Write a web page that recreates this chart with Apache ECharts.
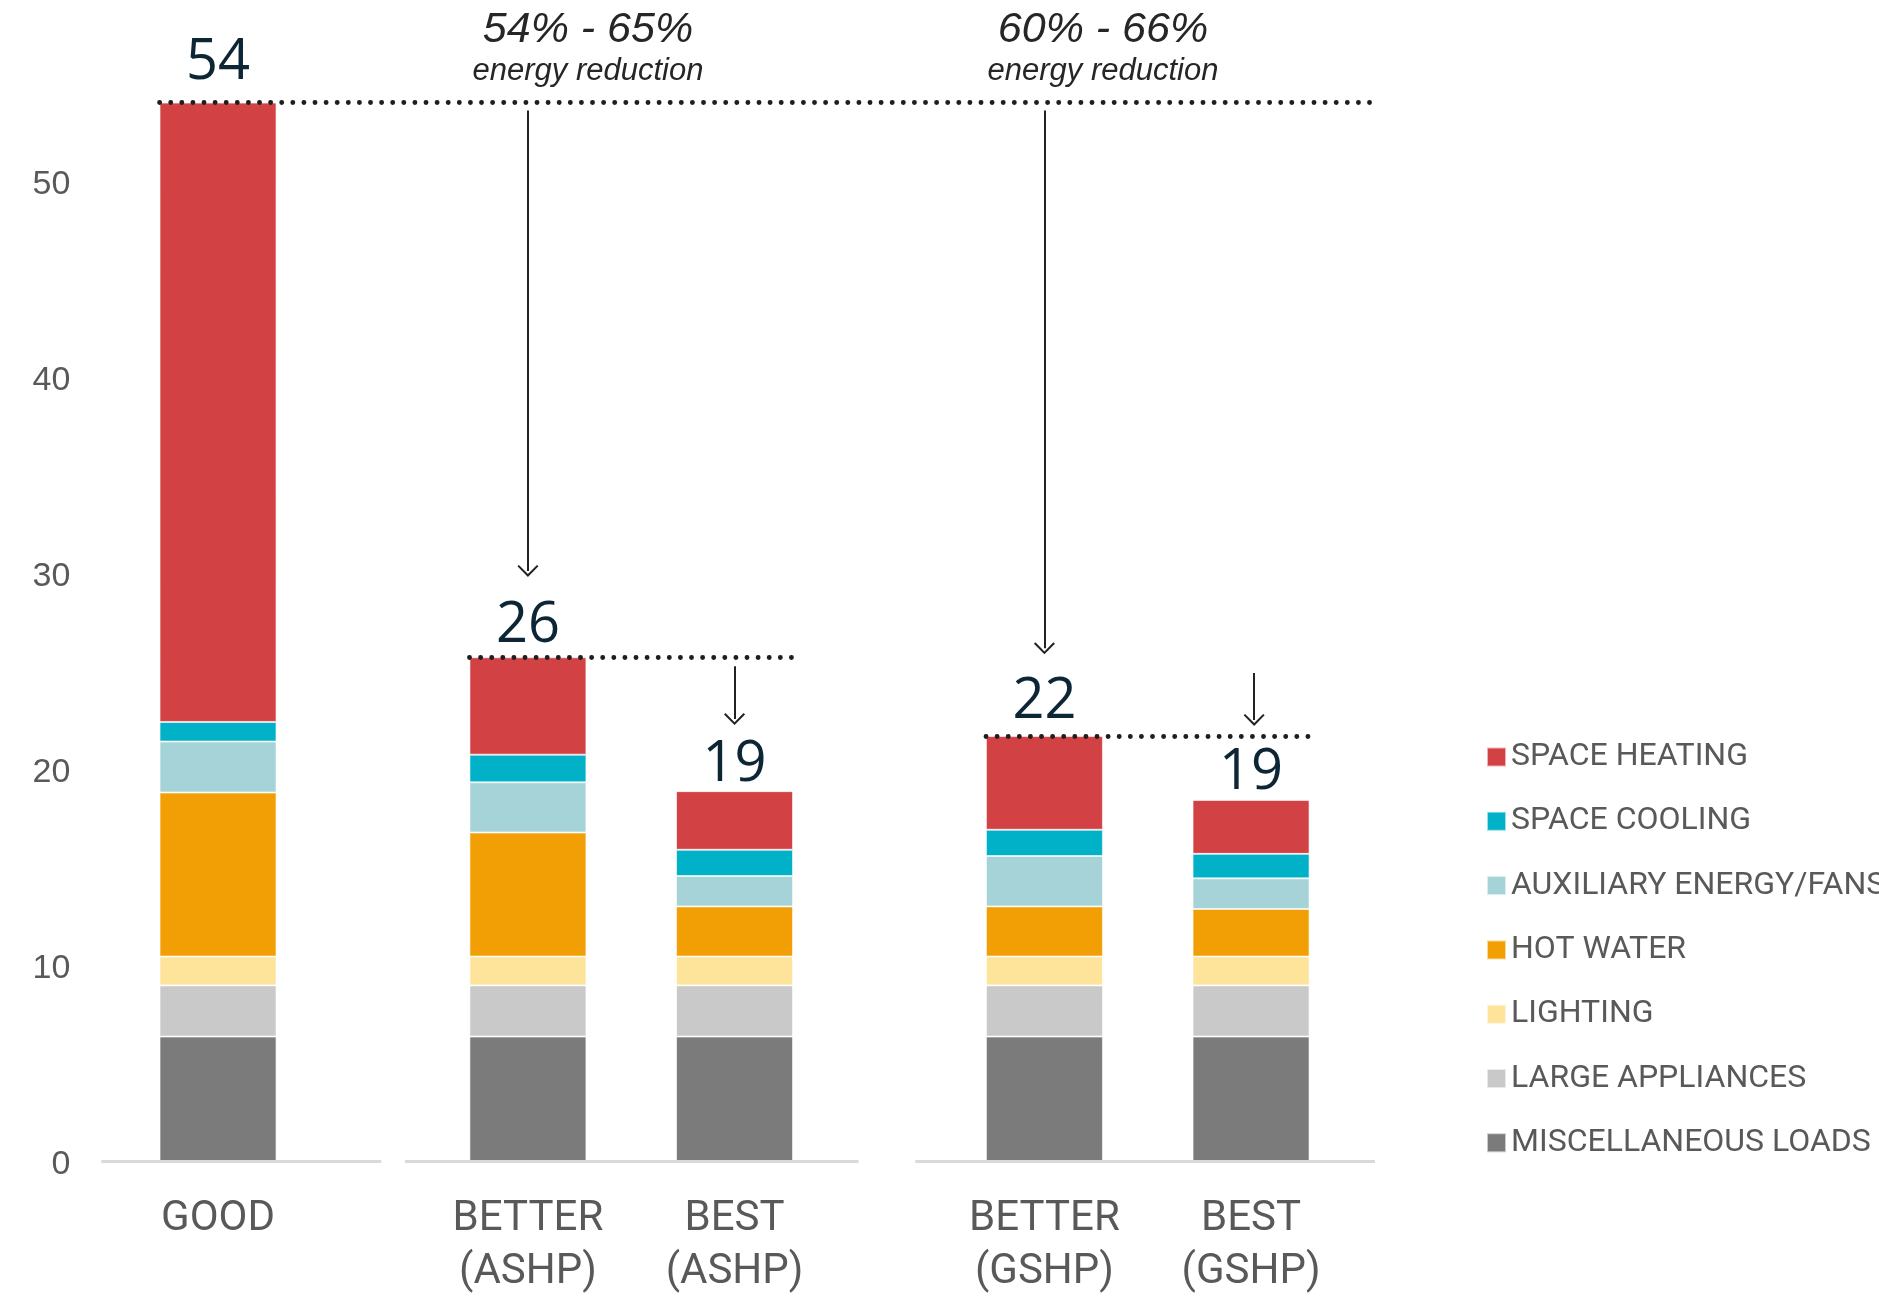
<!DOCTYPE html>
<html>
<head>
<meta charset="utf-8">
<script src="https://cdn.jsdelivr.net/npm/echarts@6/dist/echarts.min.js"></script>
<style>
  html, body { margin: 0; padding: 0; background: #ffffff; }
  #chart { width: 1879px; height: 1300px; }
</style>
</head>
<body>
<div id="chart"></div>
<script>
// ---- data ----
const categories = ['GOOD', 'BETTER\n(ASHP)', 'BEST\n(ASHP)', 'BETTER\n(GSHP)', 'BEST\n(GSHP)'];
const positions = [0, 3, 5, 8, 10];          // slot of each bar on the x scale
const misc       = [6.35, 6.35, 6.35, 6.35, 6.35];
const appliances = [2.61, 2.61, 2.61, 2.61, 2.61];
const lighting   = [1.47, 1.47, 1.47, 1.47, 1.47];
const hotWater   = [8.37, 6.33, 2.56, 2.56, 2.43];
const auxFans    = [2.60, 2.56, 1.55, 2.57, 1.56];
const cooling    = [1.00, 1.41, 1.34, 1.34, 1.25];
const heating    = [31.6, 4.97, 2.99, 4.78, 2.75];
const totalLabels = ['54', '26', '19', '22', '19'];
const yTicks = [0, 10, 20, 30, 40, 50];
const reductionTitles = ['54% - 65%', '60% - 66%'];
const reductionSub = 'energy reduction';

// annotation geometry in data units
const halfBar = 0.566;
const refLines = [ // [start bar index, end x]
  [0, 11.19], [1, 5.56], [3, 10.58]
];
const arrows = [ // [x, from y, tip y]
  [3, 53.6, 29.8], [8, 53.6, 25.85], [5, 25.24, 22.24], [10.03, 24.9, 22.2]
];
const baseSegments = [[-1.13, 1.58], [1.81, 6.2], [6.75, 11.2]];

// ---- chart ----
const totals = categories.map((_, i) =>
  misc[i] + appliances[i] + lighting[i] + hotWater[i] + auxFans[i] + cooling[i] + heating[i]);

const layers = [
  ['MISCELLANEOUS LOADS', misc, '#7b7b7b'],
  ['LARGE APPLIANCES', appliances, '#c9c9c9'],
  ['LIGHTING', lighting, '#fde49a'],
  ['HOT WATER', hotWater, '#f19f05'],
  ['AUXILIARY ENERGY/FANS', auxFans, '#a5d3d8'],
  ['SPACE COOLING', cooling, '#00b1c8'],
  ['SPACE HEATING', heating, '#d24244']
];
const labelDist = [12, 3, -2, 6, -1];

// data given as [value, slot] so the value dimension is the stacked one
const series = layers.map(([name, vals, color], li) => {
  const isTop = li === layers.length - 1;
  return {
    name, type: 'bar', stack: 'total', barWidth: 117,
    encode: { x: 1, y: 0 },
    itemStyle: { color, borderColor: 'rgba(255,255,255,0.6)', borderWidth: 1 },
    emphasis: { disabled: true },
    data: vals.map((v, i) => isTop
      ? { value: [v, positions[i]], label: { distance: labelDist[i] } }
      : [v, positions[i]]),
    label: isTop ? {
      show: true, position: 'top',
      formatter: p => totalLabels[p.dataIndex],
      fontFamily: 'Open Sans', fontSize: 56, color: '#0c2636', lineHeight: 56
    } : { show: false }
  };
});

const chevron = 'path://M10,0 L20,11 L18.6,12.4 L10,3 L1.4,12.4 L0,11 Z';
const pxPerUnit = 19.6;
const markData = [];
baseSegments.forEach(([a, b]) => markData.push([
  { coord: [a, 0], symbol: 'none', lineStyle: { color: '#d9d9d9', width: 3, type: 'solid' } },
  { coord: [b, 0], symbol: 'none' }
]));
refLines.forEach(([bi, xEnd]) => markData.push([
  { coord: [positions[bi] - halfBar, totals[bi]], symbol: 'none',
    lineStyle: { color: '#1e1e1e', width: 4.8, type: [0.1, 11], cap: 'round' } },
  { coord: [xEnd, totals[bi]], symbol: 'none' }
]));
arrows.forEach(([x, y0, y1]) => markData.push([
  { coord: [x, y0], symbol: 'none', lineStyle: { color: '#222', width: 2, type: 'solid' } },
  { coord: [x, y1 + 6 / pxPerUnit], symbol: chevron, symbolSize: [21, 12],
    itemStyle: { color: '#222' } }
]));

series.push({
  name: 'annotations', type: 'scatter', data: [], silent: true,
  markLine: {
    silent: true, animation: false, symbol: ['none', 'none'],
    label: { show: false }, emphasis: { disabled: true },
    data: markData
  }
});

const chart = echarts.init(document.getElementById('chart'), null, { renderer: 'canvas' });
chart.setOption({
  backgroundColor: '#ffffff',
  animation: false,
  grid: { left: 101.3, right: 504, top: 24.2, bottom: 139, containLabel: false },
  xAxis: {
    type: 'value', min: -1.13, max: 11.2,
    axisLine: { show: false }, axisTick: { show: false }, splitLine: { show: false },
    axisLabel: {
      customValues: positions,
      formatter: v => { const i = positions.indexOf(v); return i >= 0 ? categories[i] : ''; },
      fontFamily: 'Roboto, sans-serif', fontSize: 42,
      lineHeight: 53, color: '#595959', margin: 32
    }
  },
  yAxis: {
    type: 'value', min: 0, max: 58, interval: 10,
    axisLine: { show: false }, axisTick: { show: false }, splitLine: { show: false },
    axisLabel: {
      customValues: yTicks,
      formatter: v => '{t|' + v + '}',
      margin: 31,
      rich: {
        t: {
          fontFamily: 'Liberation Sans, sans-serif', fontSize: 34, color: '#595959',
          lineHeight: 34, padding: [8, 0, 0, 0]
        }
      }
    }
  },
  legend: {
    orient: 'vertical', left: 1481, top: 736,
    data: layers.map(l => l[0]).reverse(),
    icon: 'rect', itemWidth: 19, itemHeight: 19, itemGap: 32.3,
    selectedMode: false,
    textStyle: {
      fontFamily: 'Roboto, sans-serif', fontSize: 32, color: '#595959'
    }
  },
  graphic: [
    { type: 'text', x: 588, y: 30, style: { text: reductionTitles[0], fontFamily: 'Liberation Sans', fontStyle: 'italic', fontSize: 43, fill: '#262626', align: 'center', verticalAlign: 'middle' } },
    { type: 'text', x: 588, y: 71, style: { text: reductionSub, fontFamily: 'Liberation Sans', fontStyle: 'italic', fontSize: 31, fill: '#262626', align: 'center', verticalAlign: 'middle' } },
    { type: 'text', x: 1103, y: 30, style: { text: reductionTitles[1], fontFamily: 'Liberation Sans', fontStyle: 'italic', fontSize: 43, fill: '#262626', align: 'center', verticalAlign: 'middle' } },
    { type: 'text', x: 1103, y: 71, style: { text: reductionSub, fontFamily: 'Liberation Sans', fontStyle: 'italic', fontSize: 31, fill: '#262626', align: 'center', verticalAlign: 'middle' } }
  ],
  series
});
</script>
</body>
</html>
